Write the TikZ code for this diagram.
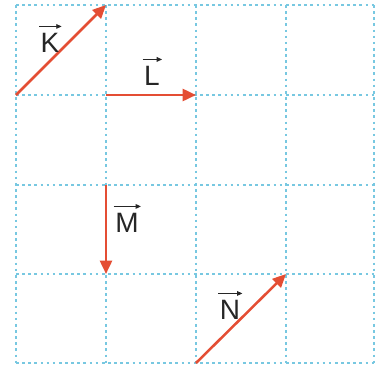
\documentclass[tikz,border=0pt]{standalone}
\usepackage{fontspec}
\setmainfont{Liberation Sans}
\usetikzlibrary{arrows.meta}
\definecolor{gridblue}{RGB}{120,200,225}
\definecolor{vecred}{RGB}{228,78,52}
\tikzset{
  gridline/.style={gridblue, line width=1.1pt, dash pattern=on 2pt off 2.6pt},
  vecarrow/.style={vecred, line width=1.9pt, -{Triangle[length=10pt,width=9pt]}},
  veclabel/.style={font=\fontsize{21}{21}\selectfont, text=black!85, inner sep=0pt},
  overarrow/.style={black!85, line width=0.7pt, -{Triangle[length=4pt,width=3.5pt]}}
}
\begin{document}
\begin{tikzpicture}[x=0.75pt,y=-0.75pt]
\useasboundingbox (0,0) rectangle (377,372);
% grid
\foreach \x in {16,106,196,286,374} \draw[gridline] (\x,5) -- (\x,363);
\foreach \y in {5,95,185,274,363} \draw[gridline] (16,\y) -- (374,\y);
% points
\coordinate (k1) at (16,95);  \coordinate (k2) at (106,5);
\coordinate (l1) at (106,95); \coordinate (l2) at (196,95);
\coordinate (m1) at (106,185);\coordinate (m2) at (106,274);
\coordinate (n1) at (196,363);\coordinate (n2) at (286,274);
\draw[vecarrow] (k1) -- (k2);
\draw[vecarrow] (l1) -- (l2);
\draw[vecarrow] (m1) -- (m2);
\draw[vecarrow] (n1) -- (n2);
% labels
\node[veclabel] (K) at (50,43) {K};
\node[veclabel] (L) at (152,76) {L};
\node[veclabel] (M) at (127,223) {M};
\node[veclabel] (N) at (230,310) {N};
\foreach \n in {K,L,M,N}
  \draw[overarrow] ([xshift=-1pt,yshift=5pt]\n.north west) -- ([xshift=1.5pt,yshift=5pt]\n.north east);
\end{tikzpicture}
\end{document}
